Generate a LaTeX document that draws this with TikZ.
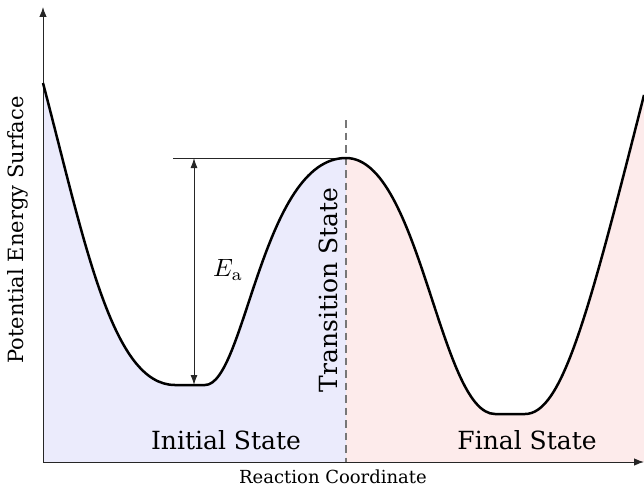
\documentclass[tikz,border=0pt]{standalone}
\usepackage[no-math]{fontspec}
\setmainfont{DejaVu Serif}
\usetikzlibrary{arrows.meta}
\definecolor{initialfill}{HTML}{EBEBFC}
\definecolor{finalfill}{HTML}{FDEBEB}
\definecolor{tsline}{HTML}{777777}

\begin{document}
\begin{tikzpicture}[x=0.4pt,y=0.4pt]
  \useasboundingbox (0,0) rectangle (644,488);

  % shaded wells under the curve
  \begin{scope}
    \clip (43,405) .. controls (85,245) and (112,103) .. (175,103) -- (205,103)
      .. controls (245,103) and (262,330) .. (346,330)
      .. controls (420,330) and (440,74) .. (495,74) -- (525,74)
      .. controls (562,74) and (588,172) .. (644,393) -- (644,26) -- (43,26) -- cycle;
    \fill[initialfill] (43,26) rectangle (346,488);
    \fill[finalfill] (346,26) rectangle (644,488);
  \end{scope}

  % axes
  \coordinate (origin) at (43,26);
  \coordinate (ymax) at (43,481);
  \coordinate (xmax) at (644,26);
  \draw[black!85,-{Latex[length=4pt,width=3pt]}] (origin) -- (ymax);
  \draw[black!85,-{Latex[length=4pt,width=3pt]}] (origin) -- (xmax);
  \node[font=\fontsize{7.2}{9}\selectfont] (xlabel) at (333,11) {Reaction Coordinate};
  \node[font=\fontsize{8.4}{10}\selectfont,rotate=90] (ylabel) at (18,258) {Potential Energy Surface};

  % transition state
  \coordinate (ts) at (346,330);
  \coordinate (tstop) at (346,368);
  \coordinate (tsbase) at (346,26);
  \draw[tsline,line width=0.8pt,dash pattern=on 3pt off 2pt] (tstop) -- (tsbase);
  \node[font=\fontsize{10}{12}\selectfont,rotate=90] (tslabel) at (328,198) {Transition State};

  % activation energy
  \coordinate (level) at (173,330);
  \coordinate (eatop) at (194,330);
  \coordinate (eabot) at (194,103);
  \draw[black!85] (level) -- (ts);
  \draw[black!85,{Latex[length=4pt,width=2.8pt]}-{Latex[length=4pt,width=2.8pt]}] (eabot) -- (eatop);
  \node (ealabel) at (228,218) {$E_\mathrm{a}$};

  % energy curve
  \draw[line width=1pt] (43,405) .. controls (85,245) and (112,103) .. (175,103) -- (205,103)
    .. controls (245,103) and (262,330) .. (346,330)
    .. controls (420,330) and (440,74) .. (495,74) -- (525,74)
    .. controls (562,74) and (588,172) .. (644,393);

  % wells
  \node[font=\fontsize{10}{12}\selectfont] (initial) at (226,48) {Initial State};
  \node[font=\fontsize{10}{12}\selectfont] (final) at (527,48) {Final State};
\end{tikzpicture}
\end{document}
